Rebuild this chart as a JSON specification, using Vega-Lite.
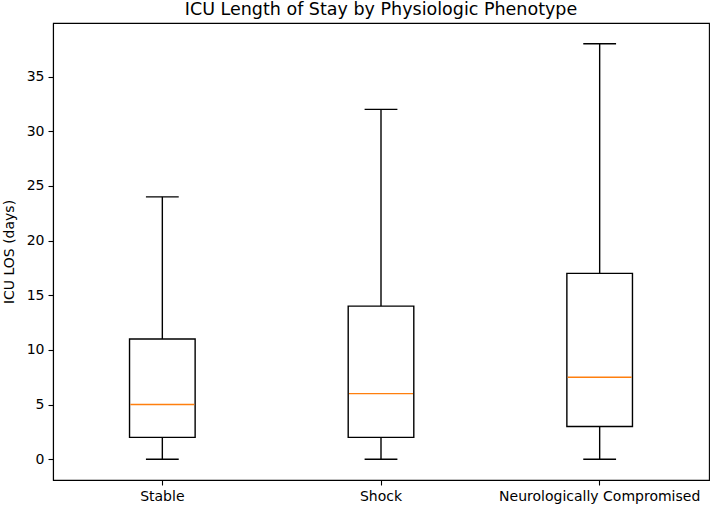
{
  "$schema": "https://vega.github.io/schema/vega-lite/v6.json",
  "width": 656,
  "height": 457,
  "autosize": {"type": "none"},
  "padding": {"left": 53, "top": 23, "right": 3, "bottom": 26},
  "background": "white",
  "config": {
    "font": "DejaVu Sans",
    "view": {"stroke": "black", "strokeWidth": 1.1},
    "axis": {
      "labelFont": "DejaVu Sans",
      "titleFont": "DejaVu Sans",
      "labelFontSize": 14,
      "titleFontSize": 14,
      "titleFontWeight": "normal",
      "labelColor": "black",
      "titleColor": "black",
      "tickColor": "black",
      "domainColor": "black",
      "domainWidth": 1.1,
      "tickWidth": 1.1,
      "tickSize": 5,
      "labelLimit": 0,
      "grid": false
    }
  },
  "title": {
    "text": "ICU Length of Stay by Physiologic Phenotype",
    "fontSize": 17.5,
    "fontWeight": "normal",
    "font": "DejaVu Sans",
    "color": "black",
    "anchor": "middle",
    "offset": 5
  },
  "data": {
    "values": [
      {"group": "Stable", "min": 0, "q1": 2, "median": 5, "q3": 11, "max": 24},
      {"group": "Shock", "min": 0, "q1": 2, "median": 6, "q3": 14, "max": 32},
      {"group": "Neurologically Compromised", "min": 0, "q1": 3, "median": 7.5, "q3": 17, "max": 38}
    ]
  },
  "encoding": {
    "x": {
      "field": "group",
      "type": "nominal",
      "sort": null,
      "scale": {"paddingInner": 0, "paddingOuter": 0},
      "axis": {"title": null, "labelAngle": 0, "labelPadding": 4, "labelLimit": 0}
    }
  },
  "layer": [
    {
      "mark": {"type": "rule", "color": "black", "strokeWidth": 1.4},
      "encoding": {
        "y": {
          "field": "min",
          "type": "quantitative",
          "scale": {"domain": [-1.9, 39.9], "nice": false, "zero": false},
          "axis": {"title": "ICU LOS (days)", "values": [0, 5, 10, 15, 20, 25, 30, 35], "labelPadding": 4, "titlePadding": 10}
        },
        "y2": {"field": "q1"}
      }
    },
    {
      "mark": {"type": "rule", "color": "black", "strokeWidth": 1.4},
      "encoding": {
        "y": {"field": "q3", "type": "quantitative"},
        "y2": {"field": "max"}
      }
    },
    {
      "mark": {"type": "bar", "fill": "white", "stroke": "black", "strokeWidth": 1.4, "size": 65.6},
      "encoding": {
        "y": {"field": "q1", "type": "quantitative"},
        "y2": {"field": "q3"}
      }
    },
    {
      "mark": {"type": "tick", "color": "black", "size": 32.8, "thickness": 1.4, "orient": "horizontal", "opacity": 1},
      "encoding": {
        "y": {"field": "min", "type": "quantitative"}
      }
    },
    {
      "mark": {"type": "tick", "color": "black", "size": 32.8, "thickness": 1.4, "orient": "horizontal", "opacity": 1},
      "encoding": {
        "y": {"field": "max", "type": "quantitative"}
      }
    },
    {
      "mark": {"type": "tick", "color": "#ff7f0e", "size": 64, "thickness": 1.4, "orient": "horizontal", "opacity": 1},
      "encoding": {
        "y": {"field": "median", "type": "quantitative"}
      }
    }
  ]
}
